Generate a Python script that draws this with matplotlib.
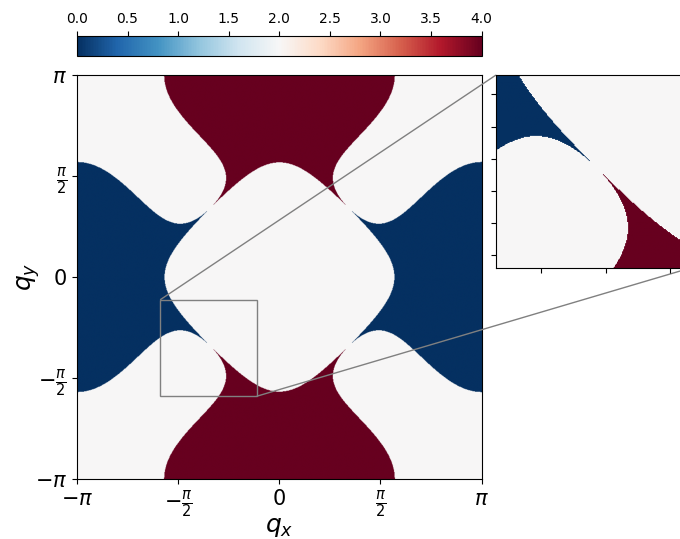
import numpy as np
import matplotlib
matplotlib.use("Agg")
import matplotlib.pyplot as plt
from mpl_toolkits.axes_grid1.inset_locator import mark_inset

# momentum grid
n_q = 801
q_min, q_max = -np.pi, np.pi

# touching point of the two boundaries (|qx| = |qy| = q_touch)
q_touch = 0.342 * np.pi
# inner boundary: p + a_inner * m^2 = p_touch
a_inner = 0.1125
# outer boundary: m^2 = (p_touch - p) * g0 * exp(k_out * (p - p_ref))
g0 = 1.62
k_out = 0.93
p_ref = 0.664

# levels of the three regions
level_mid = 2
level_hi = 4
level_lo = 0

# zoom window
zoom_lo, zoom_hi = -1.85, -0.35

q_ticks = [-np.pi, -np.pi / 2, 0, np.pi / 2, np.pi]
q_tick_labels = [r"$-\pi$", r"$-\frac{\pi}{2}$", r"$0$", r"$\frac{\pi}{2}$", r"$\pi$"]
cbar_ticks = [0.0, 0.5, 1.0, 1.5, 2.0, 2.5, 3.0, 3.5, 4.0]
zoom_xticks = [-1.5, -1.0, -0.5]
zoom_yticks = [-1.75, -1.5, -1.25, -1.0, -0.75, -0.5]

qx, qy = np.meshgrid(np.linspace(q_min, q_max, n_q), np.linspace(q_min, q_max, n_q))
u = np.cos(qx)
v = np.cos(qy)
p = u + v
m = u - v
p_touch = 2 * np.cos(q_touch)

inner = p + a_inner * m**2 > p_touch
outer = m**2 < (p_touch - p) * g0 * np.exp(k_out * (p - p_ref))
field = np.where(inner | outer, level_mid, np.where(u > v, level_hi, level_lo))

fig = plt.figure(figsize=(6.8, 5.39), dpi=100)

ax = fig.add_axes([0.1132, 0.1108, 0.5951, 0.7495])
im = ax.imshow(field, origin="lower", extent=[q_min, q_max, q_min, q_max],
               cmap="RdBu_r", vmin=0, vmax=4, aspect="auto")
ax.set_xticks(q_ticks)
ax.set_xticklabels(q_tick_labels, fontsize=15)
ax.set_yticks(q_ticks)
ax.set_yticklabels(q_tick_labels, fontsize=15)
ax.set_xlabel(r"$q_x$", fontsize=18, labelpad=-4)
ax.set_ylabel(r"$q_y$", fontsize=18, labelpad=-5)

# colorbar on top
cax = fig.add_axes([0.1132, 0.8961, 0.5951, 0.0377])
cb = fig.colorbar(im, cax=cax, orientation="horizontal", ticks=cbar_ticks)
cax.xaxis.set_ticks_position("top")
cax.xaxis.set_label_position("top")
cax.tick_params(labelsize=10)

# zoomed view of the touching point
axins = fig.add_axes([0.7294, 0.5022, 0.2843, 0.3586])
axins.imshow(field, origin="lower", extent=[q_min, q_max, q_min, q_max],
             cmap="RdBu_r", vmin=0, vmax=4, aspect="auto")
axins.set_xlim(zoom_lo, zoom_hi)
axins.set_ylim(zoom_lo, zoom_hi)
axins.set_xticks(zoom_xticks)
axins.set_yticks(zoom_yticks)
axins.set_xticklabels([])
axins.set_yticklabels([])
mark_inset(ax, axins, loc1=2, loc2=4, fc="none", ec="0.5", lw=1.0)

fig.savefig("out.png", dpi=100)
